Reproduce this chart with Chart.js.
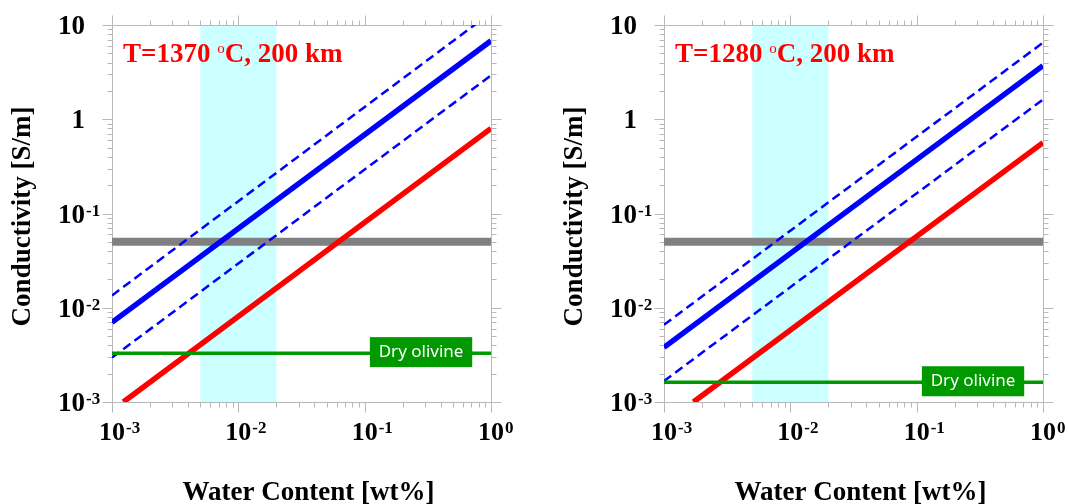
<!DOCTYPE html>
<html>
<head>
<meta charset="utf-8">
<script src="https://cdn.jsdelivr.net/npm/chart.js@4.4.0/dist/chart.umd.min.js"></script>
<style>
  body { margin: 0; background: #fff; width: 1068px; height: 504px; overflow: hidden; position: relative; }
  canvas { position: absolute; top: 0; }
</style>
</head>
<body>
<canvas id="c0" width="540" height="504" style="left:0px"></canvas>
<canvas id="c1" width="528" height="504" style="left:540px"></canvas>
<script>
// axis ranges and tick labels
const xRange = [0.001, 1];
const yRange = [0.001, 10];
const xDecades = [0.001, 0.01, 0.1, 1];
const xTickBase = ['10', '10', '10', '10'];
const xTickExp = ['-3', '-2', '-1', '0'];
const yDecades = [0.001, 0.01, 0.1, 1, 10];
const yTickBase = ['10', '10', '10', '1', '10'];
const yTickExp = ['-3', '-2', '-1', '', ''];

// panel texts
const panelTemp = ['T=1370 ', 'T=1280 '];
const panelRest = 'C, 200 km';

// series (left panel, right panel)
const lineX = [0.001, 1];
const blueMid = [[0.007, 6.8], [0.0038, 3.7]];
const blueHigh = [[0.0135, 13.5], [0.0066, 6.5]];
const blueLow = [[0.00296, 2.92], [0.00167, 1.62]];
const redX = [[0.00123, 1], [0.00171, 1]];
const redY = [[0.001, 0.8], [0.001, 0.565]];
const meltLevel = [0.05, 0.05];
const dryLevel = [0.0033, 0.00162];
const wetBand = [0.005, 0.02];
const dryLabelSpan = [0.11, 0.71];

const SERIF = '"Liberation Serif", "Times New Roman", serif';

function pts(xs, ys) {
  return xs.map((x, i) => ({ x: x, y: ys[i] }));
}

const decor = {
  id: 'decor',
  beforeDatasetsDraw(chart, args, opts) {
    const ctx = chart.ctx, a = chart.chartArea;
    const xs = chart.scales.x, ys = chart.scales.y;
    // water content band
    const b0 = xs.getPixelForValue(wetBand[0]), b1 = xs.getPixelForValue(wetBand[1]);
    ctx.save();
    ctx.fillStyle = '#ccffff';
    ctx.fillRect(b0, a.top, b1 - b0, a.bottom - a.top);

    // frame + ticks
    ctx.strokeStyle = '#b8b8b8';
    ctx.lineWidth = 1;
    const L = Math.round(a.left) + 0.5, R = Math.round(a.right) + 0.5;
    const T = Math.round(a.top) + 0.5, B = Math.round(a.bottom) + 0.5;
    ctx.beginPath();
    ctx.rect(L, T, R - L, B - T);
    xDecades.forEach((d, i) => {
      const ms = i === xDecades.length - 1 ? [1] : [1, 2, 3, 4, 5, 6, 7, 8, 9];
      ms.forEach(m => {
        const px = Math.round(xs.getPixelForValue(m * d)) + 0.5;
        const len = m === 1 ? 10 : 5;
        ctx.moveTo(px, B); ctx.lineTo(px, B + len);
        ctx.moveTo(px, T); ctx.lineTo(px, T - len);
      });
    });
    yDecades.forEach((d, i) => {
      const ms = i === yDecades.length - 1 ? [1] : [1, 2, 3, 4, 5, 6, 7, 8, 9];
      ms.forEach(m => {
        const py = Math.round(ys.getPixelForValue(m * d)) + 0.5;
        const len = m === 1 ? 10 : 5;
        ctx.moveTo(L, py); ctx.lineTo(L - len, py);
        ctx.moveTo(R, py); ctx.lineTo(R + len, py);
      });
    });
    ctx.stroke();
    ctx.restore();
  },
  afterDatasetsDraw(chart, args, opts) {
    const ctx = chart.ctx, a = chart.chartArea;
    const xs = chart.scales.x, ys = chart.scales.y;
    const p = opts.panel;
    ctx.save();

    // dry olivine label
    const l0 = xs.getPixelForValue(dryLabelSpan[0]), l1 = xs.getPixelForValue(dryLabelSpan[1]);
    const ly = ys.getPixelForValue(dryLevel[p]) - 1;
    ctx.fillStyle = '#009900';
    ctx.fillRect(l0, ly - 15, l1 - l0, 30);
    ctx.fillStyle = '#ffffff';
    ctx.font = '17px "Noto Sans", sans-serif';
    ctx.textAlign = 'center';
    ctx.textBaseline = 'middle';
    ctx.fillText('Dry olivine', (l0 + l1) / 2, ly);

    // tick labels
    ctx.fillStyle = '#000000';
    ctx.textBaseline = 'alphabetic';
    xDecades.forEach((d, i) => {
      const px = xs.getPixelForValue(d);
      ctx.font = 'bold 26px ' + SERIF;
      ctx.textAlign = 'center';
      ctx.fillText(xTickBase[i], px, a.bottom + 38);
      const w = ctx.measureText(xTickBase[i]).width;
      ctx.font = 'bold 17px ' + SERIF;
      ctx.textAlign = 'left';
      ctx.fillText(xTickExp[i], px + w / 2 + 1, a.bottom + 31);
    });
    yDecades.forEach((d, i) => {
      const py = ys.getPixelForValue(d);
      ctx.font = 'bold 27px ' + SERIF;
      ctx.textAlign = 'right';
      const bx = a.left - 27;
      ctx.fillText(yTickBase[i], bx, py + 9);
      if (yTickExp[i]) {
        ctx.font = 'bold 17px ' + SERIF;
        ctx.textAlign = 'left';
        ctx.fillText(yTickExp[i], bx + 1, py + 2);
      }
    });

    // axis titles
    ctx.font = 'bold 27px ' + SERIF;
    ctx.textAlign = 'center';
    ctx.fillText('Water Content [wt%]', (a.left + a.right) / 2 + 7, 500);
    ctx.save();
    ctx.translate(a.left - 88.5, (a.top + a.bottom) / 2 + 3);
    ctx.rotate(-Math.PI / 2);
    ctx.textBaseline = 'middle';
    ctx.fillText('Conductivity [S/m]', 0, 0);
    ctx.restore();

    // panel title
    ctx.fillStyle = '#ff0000';
    ctx.textAlign = 'left';
    ctx.textBaseline = 'alphabetic';
    let tx = a.left + 11;
    const ty = 62;
    ctx.font = 'bold 27px ' + SERIF;
    ctx.fillText(panelTemp[p], tx, ty);
    tx += ctx.measureText(panelTemp[p]).width;
    ctx.font = '15px ' + SERIF;
    ctx.fillText('o', tx, ty - 9);
    tx += ctx.measureText('o').width;
    ctx.font = 'bold 27px ' + SERIF;
    ctx.fillText(panelRest, tx, ty);

    ctx.restore();
  }
};

function makeChart(id, p, padLeft, padRight) {
  const datasets = [
    { data: pts(lineX, [dryLevel[p], dryLevel[p]]), borderColor: '#009900', borderWidth: 3.5 },
    { data: pts(redX[p], redY[p]), borderColor: '#ff0000', borderWidth: 5.5 },
    { data: pts(lineX, blueMid[p]), borderColor: '#0000ff', borderWidth: 5.5 },
    { data: pts(lineX, blueHigh[p]), borderColor: '#0000ff', borderWidth: 2.5, borderDash: [9, 5], clip: 0 },
    { data: pts(lineX, blueLow[p]), borderColor: '#0000ff', borderWidth: 2.5, borderDash: [9, 5] },
    { data: pts(lineX, [meltLevel[p], meltLevel[p]]), borderColor: '#808080', borderWidth: 8 }
  ];
  datasets.forEach(ds => { ds.pointRadius = 0; ds.fill = false; ds.tension = 0; });

  return new Chart(document.getElementById(id), {
    type: 'line',
    data: { datasets: datasets },
    options: {
      responsive: false,
      animation: false,
      events: [],
      layout: { padding: { left: padLeft, right: padRight, top: 25, bottom: 102 } },
      scales: {
        x: { type: 'logarithmic', min: xRange[0], max: xRange[1], display: false },
        y: { type: 'logarithmic', min: yRange[0], max: yRange[1], display: false }
      },
      plugins: {
        legend: { display: false },
        tooltip: { enabled: false },
        decor: { panel: p }
      }
    },
    plugins: [decor]
  });
}

makeChart('c0', 0, 112, 49);
makeChart('c1', 1, 124, 25);
</script>
</body>
</html>
